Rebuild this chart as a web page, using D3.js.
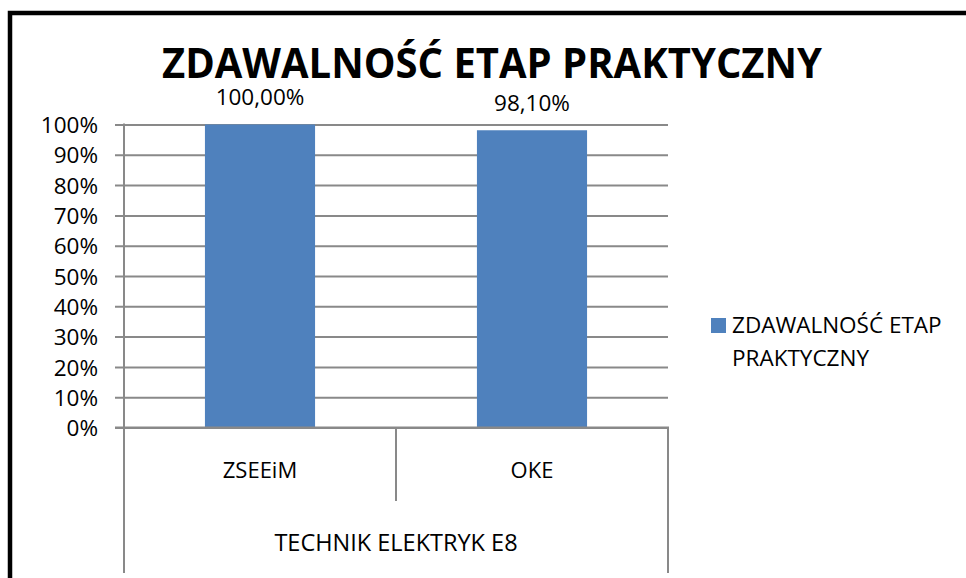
<!DOCTYPE html>
<html>
<head>
<meta charset="utf-8">
<script src="https://cdn.jsdelivr.net/npm/d3@7"></script>
<style>
  body { margin: 0; background: #fff; }
  text { font-family: "Open Sans", sans-serif; fill: #000; }
</style>
</head>
<body>
<div id="chart"></div>
<script>
// data
var categories = ["ZSEEiM", "OKE"]
var values = [1.0, 0.981]
var valueLabels = ["100,00%", "98,10%"]
var groupLabel = "TECHNIK ELEKTRYK E8"
var yTicks = [0, 10, 20, 30, 40, 50, 60, 70, 80, 90, 100]
var title = "ZDAWALNOŚĆ ETAP PRAKTYCZNY"
var seriesName = ["ZDAWALNOŚĆ ETAP", "PRAKTYCZNY"]

var W = 966, H = 578
var plot = {left: 124, right: 668, top: 124.5, bottom: 427.5}
var barColor = "#4F81BD", gridColor = "#898989"

var svg = d3.select("#chart").append("svg")
    .attr("width", W).attr("height", H)

svg.append("rect").attr("width", W).attr("height", H).style("fill", "#fff")

// outer frame (runs off the right and bottom edges)
svg.append("rect")
    .attr("x", 10).attr("y", 13)
    .attr("width", 1200).attr("height", 1200)
    .style("fill", "none").style("stroke", "#000").style("stroke-width", 4.5)

var x = d3.scaleBand().domain(categories)
    .range([plot.left, plot.right])
    .paddingInner(1.47 / 2.47).paddingOuter(1.47 / 2.47 / 2)
var xOuter = d3.scaleBand().domain(categories).range([plot.left, plot.right])
var y = d3.scaleLinear().domain([0, 100]).range([plot.bottom, plot.top])

// gridlines + y axis
var yAxis = svg.append("g")
    .attr("transform", "translate(" + plot.left + ",0)")
    .call(d3.axisLeft(y).tickValues(yTicks).tickFormat(function(d){ return d + "%" })
        .tickSize(-(plot.right - plot.left)).tickSizeOuter(0).tickPadding(26))
yAxis.select(".domain").remove()
yAxis.selectAll(".tick line")
    .attr("x1", -9)
    .style("stroke", gridColor).style("stroke-width", 2)
yAxis.selectAll(".tick text")
    .attr("dy", "0.36em")
    .style("font-size", "22.5px")

// vertical axis line
svg.append("line")
    .attr("x1", plot.left).attr("x2", plot.left)
    .attr("y1", plot.top - 1).attr("y2", 573)
    .style("stroke", gridColor).style("stroke-width", 2)
// right edge of category box
svg.append("line")
    .attr("x1", plot.right).attr("x2", plot.right)
    .attr("y1", plot.bottom).attr("y2", 573)
    .style("stroke", gridColor).style("stroke-width", 2)
// divider between categories
svg.append("line")
    .attr("x1", xOuter(categories[1])).attr("x2", xOuter(categories[1]))
    .attr("y1", plot.bottom).attr("y2", 501)
    .style("stroke", gridColor).style("stroke-width", 2)

// bars
svg.append("g").selectAll("rect")
    .data(values)
    .join("rect")
    .attr("x", function(d, i){ return x(categories[i]) })
    .attr("width", x.bandwidth())
    .attr("y", function(d){ return y(d * 100) })
    .attr("height", function(d){ return y(0) - y(d * 100) })
    .style("fill", barColor)

// redraw 0% line on top of bars
svg.append("line")
    .attr("x1", plot.left - 9).attr("x2", plot.right + 1)
    .attr("y1", plot.bottom).attr("y2", plot.bottom)
    .style("stroke", gridColor).style("stroke-width", 2)

// data labels
svg.append("g").selectAll("text")
    .data(values)
    .join("text")
    .attr("x", function(d, i){ return x(categories[i]) + x.bandwidth() / 2 })
    .attr("y", function(d){ return y(d * 100) - 19.5 })
    .attr("text-anchor", "middle")
    .style("font-size", "22.5px")
    .text(function(d, i){ return valueLabels[i] })

// category labels
svg.append("g").selectAll("text")
    .data(categories)
    .join("text")
    .attr("x", function(d){ return xOuter(d) + xOuter.bandwidth() / 2 })
    .attr("y", 478)
    .attr("text-anchor", "middle")
    .style("font-size", "22px")
    .text(function(d){ return d })

svg.append("text")
    .attr("x", (plot.left + plot.right) / 2)
    .attr("y", 551)
    .attr("text-anchor", "middle")
    .style("font-size", "23.5px")
    .text(groupLabel)

// title
svg.append("text")
    .attr("x", 492).attr("y", 78)
    .attr("text-anchor", "middle")
    .attr("textLength", 660).attr("lengthAdjust", "spacingAndGlyphs")
    .style("font-size", "41px").style("font-weight", "bold")
    .text(title)

// legend
svg.append("rect")
    .attr("x", 711).attr("y", 318)
    .attr("width", 15).attr("height", 15)
    .style("fill", barColor)
svg.append("g").selectAll("text")
    .data(seriesName)
    .join("text")
    .attr("x", 732)
    .attr("y", function(d, i){ return 333 + i * 33 })
    .style("font-size", "22.5px")
    .text(function(d){ return d })
</script>
</body>
</html>
